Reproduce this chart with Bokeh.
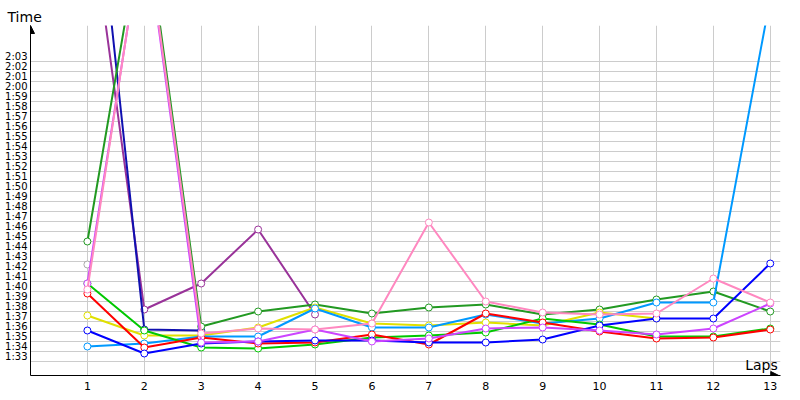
from bokeh.plotting import figure
from bokeh.models import FixedTicker, Arrow, NormalHead, Label
from bokeh.embed import file_html
from bokeh.resources import INLINE

# Lap numbers
laps = list(range(1, 14))

# Lap times in seconds
red = [99.3, 93.9, 94.9, 94.3, 94.4, 95.2, 94.2, 97.3, 96.4, 95.5, 94.8, 94.9, 95.7]
green = [100.3, 95.6, 93.9, 93.8, 94.2, 94.9, 95.1, 95.4, 96.8, 96.2, 95.0, 95.0, 95.8]
darkgreen = [104.5, 137.6, 96.0, 97.5, 98.2, 97.3, 97.9, 98.2, 97.2, 97.7, 98.7, 99.5, 97.5]
blue = [95.6, 93.3, 94.3, 94.5, 94.6, 94.6, 94.4, 94.4, 94.7, 96.1, 96.8, 96.8, 102.3]
navy = [148.9, 95.7, 95.6]
lightblue = [94.0, 94.3, 95.0, 95.0, 97.8, 95.9, 95.9, 97.2, 96.3, 96.8, 98.4, 98.4, 128.8]
yellow = [97.1, 95.1, 95.1, 95.9, 97.9, 96.3, 96.1, 96.4, 96.1, 97.4, 96.8]
pink = [99.7, 136.8, 95.3, 95.8, 95.7, 96.3, 106.4, 98.5, 97.4, 97.2, 97.3, 100.8, 98.4]
magenta = [100.3, 136.5, 94.4, 94.5, 95.7, 94.5, 94.8, 95.8, 95.9, 95.6, 95.2, 95.8, 98.3]
purple = [139.7, 97.7, 100.3, 105.7, 97.2]
gray = [102.2]

# Y tick labels (seconds -> m:ss)
ytick_values = list(range(93, 124))
ytick_labels = {t: f"{t // 60}:{t % 60:02d}" for t in ytick_values}

series = [
    ("gray", "#aaaaaa", gray),
    ("purple", "#993399", purple),
    ("navy", "#1010b0", navy),
    ("darkgreen", "#229922", darkgreen),
    ("yellow", "#e0e000", yellow),
    ("lightblue", "#0099ff", lightblue),
    ("green", "#00c800", green),
    ("red", "#ff0000", red),
    ("blue", "#0000ff", blue),
    ("magenta", "#cc44ff", magenta),
    ("pink", "#ff88c0", pink),
]

p = figure(width=784, height=396, output_backend="svg", toolbar_location=None,
           x_range=(0, 13.18), y_range=(91.1, 126.1),
           min_border_left=30, min_border_right=4, min_border_top=25, min_border_bottom=21,
           title="Time")
p.outline_line_color = None
p.background_fill_color = "white"
p.border_fill_color = "white"

p.title.text_font = "DejaVu Sans"
p.title.text_font_size = "14px"
p.title.text_font_style = "normal"
p.title.text_color = "black"
p.title.align = "left"
p.title.offset = -23
p.title.standoff = 2

# axes
p.yaxis.ticker = FixedTicker(ticks=ytick_values)
p.yaxis.major_label_overrides = ytick_labels
p.xaxis.ticker = FixedTicker(ticks=laps)
for ax in (p.xaxis, p.yaxis):
    ax.major_tick_out = 0
    ax.major_tick_in = 0
    ax.minor_tick_out = 0
    ax.minor_tick_in = 0
    ax.axis_line_color = "black"
    ax.axis_line_width = 1
    ax.major_label_text_font = "DejaVu Sans"
    ax.major_label_text_color = "black"
p.yaxis.major_label_text_font_size = "10px"
p.yaxis.major_label_standoff = 3
p.xaxis.major_label_text_font_size = "11px"
p.xaxis.major_label_standoff = 6

# grids
p.ygrid.ticker = FixedTicker(ticks=[t - 0.5 for t in ytick_values])
p.xgrid.ticker = FixedTicker(ticks=laps)
p.grid.grid_line_color = "#cccccc"
p.grid.grid_line_width = 1

for name, color, vals in series:
    xs = laps[:len(vals)]
    if len(vals) > 1:
        p.line(xs, vals, line_color=color, line_width=2)
    p.scatter(xs, vals, marker="circle", size=7, fill_color="white",
              line_color=color, line_width=1)

# axis arrows
p.add_layout(Arrow(end=NormalHead(size=8, fill_color="black", line_color="black"),
                   x_start=0, y_start=125.0, x_end=0, y_end=126.1,
                   line_color="black", line_width=1))
p.add_layout(Arrow(end=NormalHead(size=8, fill_color="black", line_color="black"),
                   x_start=13.0, y_start=91.1, x_end=13.15, y_end=91.1,
                   line_color="black", line_width=1))

p.add_layout(Label(x=12.56, y=91.4, text="Laps", text_font="DejaVu Sans",
                   text_font_size="14px", text_color="black", text_baseline="bottom"))

open("out.html", "w").write(file_html(p, INLINE))
